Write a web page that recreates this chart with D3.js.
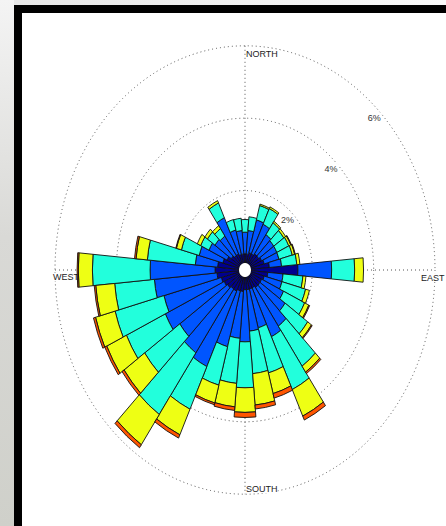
<!DOCTYPE html>
<html>
<head>
<meta charset="utf-8">
<script src="https://cdn.jsdelivr.net/npm/d3@7"></script>
<style>
  html, body { margin: 0; padding: 0; background: #fff; }
  svg { display: block; }
  text { font-family: "Liberation Sans", Arial, sans-serif; }
</style>
</head>
<body>
<svg width="446" height="526"></svg>
<script>
// Wind directions (deg, clockwise from north), one bar each
const directions = d3.range(0, 360, 10);

// Frequency (%) of each speed class per direction
const navy   = [.25,.25,.30,.30,.35,.35,.40,.45,.60,1.53,.55,.45,.40,.40,.40,.35,.35,.35,.35,.40,.40,.45,.45,.50,.55,.60,.72,.78,.70,.55,.45,.35,.30,.30,.25,.25];
const blue   = [.60,.65,.94,.90,.65,.60,.55,.50,.40,1.10,.50,.60,.79,1.00,1.30,1.49,1.11,1.15,1.44,1.30,1.60,2.30,2.15,1.90,2.12,1.94,2.05,2.12,.73,.80,.65,.65,.65,1.10,.70,.65];
const cyan   = [.35,.38,.41,.48,.40,.40,.43,.45,.50,.75,.65,.80,.76,.90,1.35,1.61,1.29,1.18,1.27,1.25,1.10,1.30,2.08,1.40,1.40,1.65,1.30,1.88,1.57,.60,.30,.30,.25,.45,.30,.34];
const yellow = [0,0,.04,.05,.05,.07,.07,.08,.10,.29,.10,.13,.15,.15,.20,.81,.59,.87,.68,.65,.51,.78,1.02,.82,.71,.66,.62,.46,.37,.17,.12,.10,.10,.07,0,0];
const orange = [0,0,0,0,0,0,.02,.02,0,0,0,0,.03,.03,.05,.12,.13,.11,.14,.10,.05,.10,.10,.08,.07,.07,.05,.04,.05,.02,0,0,0,0,0,0];

const classes = ["navy", "blue", "cyan", "yellow", "orange"];
const colors  = ["#00008f", "#0055ff", "#22ffdc", "#eeff14", "#ff5500"];

const ringValues = [2, 4, 6];
const ringLabels = ["2%", "4%", "6%"];
const compass = [
  {name: "NORTH", angle: 0},
  {name: "EAST", angle: 90},
  {name: "SOUTH", angle: 180},
  {name: "WEST", angle: 270}
];

const svg = d3.select("svg");

// page frame around the figure
const defs = svg.append("defs");
const lg = defs.append("linearGradient").attr("id", "side").attr("x1", 0).attr("y1", 0).attr("x2", 0).attr("y2", 1);
lg.append("stop").attr("offset", "0%").attr("stop-color", "#f4f4f4");
lg.append("stop").attr("offset", "45%").attr("stop-color", "#d9d9d6");
lg.append("stop").attr("offset", "100%").attr("stop-color", "#cfd0ca");
const tg = defs.append("linearGradient").attr("id", "top");
tg.append("stop").attr("offset", "0%").attr("stop-color", "#e6e6e6");
tg.append("stop").attr("offset", "100%").attr("stop-color", "#fafafa");

svg.append("rect").attr("width", 446).attr("height", 526).attr("fill", "url(#top)");
svg.append("rect").attr("y", 0).attr("width", 14).attr("height", 526).attr("fill", "url(#side)");
svg.append("rect").attr("x", 14).attr("y", 5).attr("width", 440).attr("height", 530).attr("fill", "#000");
svg.append("rect").attr("x", 22).attr("y", 13).attr("width", 430).attr("height", 520).attr("fill", "#fff");

// polar plot: circle squeezed into an ellipse
const cx = 245, cy = 270, stretch = 1.18;
const r = d3.scaleLinear().domain([0, 6]).range([6, 190]);
const rad = a => a * Math.PI / 180;

const grid = svg.append("g").attr("transform", `translate(${cx},${cy})`);

// dotted axes
grid.append("line").attr("x1", 0).attr("x2", 0).attr("y1", -r(6) * stretch).attr("y2", r(6) * stretch)
  .attr("stroke", "#555").attr("stroke-dasharray", "1,3");
grid.append("line").attr("y1", 0).attr("y2", 0).attr("x1", -r(6)).attr("x2", r(6))
  .attr("stroke", "#555").attr("stroke-dasharray", "1,3");

// dotted rings
grid.selectAll("ellipse.ring")
  .data(ringValues)
  .join("ellipse")
  .attr("class", "ring")
  .attr("rx", d => r(d))
  .attr("ry", d => r(d) * stretch)
  .attr("fill", "none")
  .attr("stroke", "#555")
  .attr("stroke-dasharray", "1,3");

// stacked bars
const table = directions.map((dir, i) => ({
  dir, navy: navy[i], blue: blue[i], cyan: cyan[i], yellow: yellow[i], orange: orange[i]
}));
const series = d3.stack().keys(classes)(table);

const arc = d3.arc()
  .innerRadius(d => r(d[0]))
  .outerRadius(d => r(d[1]))
  .startAngle(d => rad(d.data.dir - 5))
  .endAngle(d => rad(d.data.dir + 5));

const rose = svg.append("g").attr("transform", `translate(${cx},${cy}) scale(1,${stretch})`);

rose.selectAll("g.layer")
  .data(series)
  .join("g")
  .attr("class", "layer")
  .attr("fill", (d, i) => colors[i])
  .selectAll("path")
  .data(d => d.filter(s => s[1] - s[0] > 0))
  .join("path")
  .attr("d", arc)
  .attr("stroke", "#111")
  .attr("stroke-width", 0.9)
  .attr("vector-effect", "non-scaling-stroke");

// hole in the middle
rose.append("circle").attr("r", r(0)).attr("fill", "#fff");

// ring labels at 45 degrees
const rl = grid.selectAll("g.rlab")
  .data(ringValues)
  .join("g")
  .attr("class", "rlab")
  .attr("transform", d => `translate(${r(d) * Math.sin(rad(45)) - 5},${-r(d) * Math.cos(rad(45)) * stretch + 6})`);
rl.append("rect").attr("x", -7).attr("y", -5).attr("width", 14).attr("height", 10).attr("fill", "#fff");
rl.append("text")
  .attr("text-anchor", "middle")
  .attr("dy", "0.35em")
  .attr("font-size", 9)
  .attr("fill", "#333")
  .text((d, i) => ringLabels[i]);

// compass labels
const cl = grid.selectAll("g.clab")
  .data(compass)
  .join("g")
  .attr("class", "clab");

cl.each(function(d) {
  const g = d3.select(this);
  let x, y, anchor;
  if (d.angle === 0)   { x = 1;  y = -r(6) * stretch + 11; anchor = "start"; }
  if (d.angle === 180) { x = 1;  y = r(6) * stretch - 2;   anchor = "start"; }
  if (d.angle === 90)  { x = r(6) - 14; y = 11; anchor = "start"; }
  if (d.angle === 270) { x = -r(6) + 24; y = 10; anchor = "end"; }
  const t = g.append("text")
    .attr("x", x).attr("y", y)
    .attr("text-anchor", anchor)
    .attr("font-size", 9)
    .attr("fill", "#222")
    .text(d.name);
  const b = t.node().getBBox();
  g.insert("rect", "text").attr("x", b.x).attr("y", b.y + 1).attr("width", b.width).attr("height", b.height - 2).attr("fill", "#fff");
});
</script>
</body>
</html>
